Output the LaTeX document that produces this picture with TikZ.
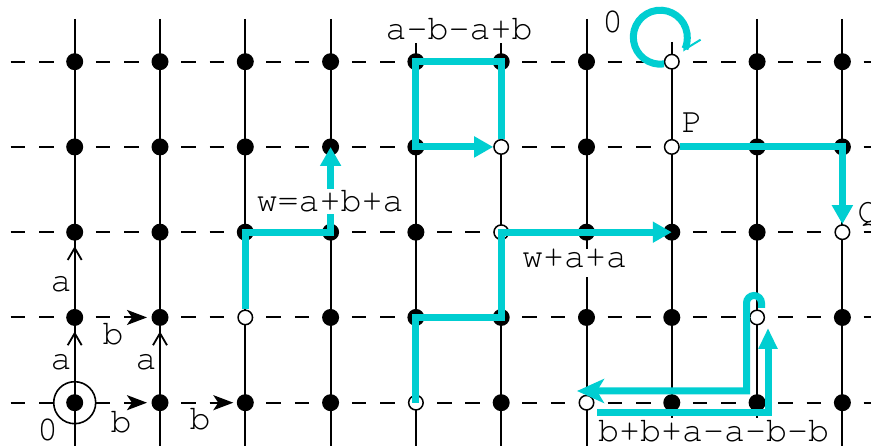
\documentclass[tikz,border=0pt]{standalone}
\usepackage[T1,TU]{fontenc}
\usetikzlibrary{arrows.meta,calc}
\definecolor{cyanp}{RGB}{0,206,209}
\newcommand\courfont{\fontencoding{T1}\fontfamily{pcr}\fontseries{m}\fontshape{n}\fontsize{35}{35}\selectfont}
\newcommand\markhollow[1]{\expandafter\def\csname hol-#1\endcsname{}}
\markhollow{2-3}\markhollow{5-1}\markhollow{5-2}\markhollow{4-4}\markhollow{7-0}
\markhollow{7-1}\markhollow{9-2}\markhollow{8-3}\markhollow{6-4}
\tikzset{
  gridv/.style={line width=2pt, black},
  gridh/.style={line width=2pt, black, dash pattern=on 14.5pt off 13.93pt},
  blackdot/.style={circle, fill=black, inner sep=0pt, minimum size=17pt},
  hollowdot/.style={circle, draw=black, line width=1.5pt, fill=white, inner sep=0pt, minimum size=14.5pt},
  origring/.style={circle, draw=black, line width=1.6pt, inner sep=0pt, minimum size=42pt},
  cyanpath/.style={draw=cyanp, line width=7pt},
  tri/.style={-{Triangle[length=19pt,width=20pt]}},
  aarrow/.style={line width=2pt, black, -{Straight Barb[length=12pt,width=14pt,line width=1.8pt]}, shorten >=14pt},
  barrow/.style={line width=2pt, black, dash pattern=on 14.5pt off 13.93pt, dash phase=7.25pt, -{Stealth[length=20pt,width=15pt,inset=5pt]}},
  lab/.style={font=\courfont, inner sep=0pt, anchor=base},
  boxlab/.style={lab, fill=white, inner sep=2pt}
}
\begin{document}
\begin{tikzpicture}[x=1pt,y=1pt]
\fill[white] (0,0) rectangle (871,446);
\useasboundingbox (0,0) rectangle (871,446);
% grid lines
\foreach \k in {0,...,9}{
  \pgfmathsetmacro\xx{74.7+85.3*\k}
  \pgfmathsetmacro\yt{\k==7 ? 404 : 427}
  \coordinate (vt-\k) at (\xx,\yt);
  \coordinate (vb-\k) at (\xx,-2);
  \draw[gridv] (vt-\k) -- (vb-\k);
}
\foreach \j in {0,...,4}{
  \pgfmathsetmacro\yy{384.3-85.25*\j}
  \coordinate (hl-\j) at (10.6,\yy);
  \coordinate (hr-\j) at (880,\yy);
  \draw[gridh] (hl-\j) -- (hr-\j);
}
% dots
\foreach \k in {0,...,9}{\foreach \j in {0,...,4}{
  \pgfmathsetmacro\xx{74.7+85.3*\k}
  \pgfmathsetmacro\yy{384.3-85.25*\j}
  \ifcsname hol-\k-\j\endcsname
    \node[hollowdot] (n-\k-\j) at (\xx,\yy) {};
  \else
    \node[blackdot] (n-\k-\j) at (\xx,\yy) {};
  \fi
}}
\node[origring] (orig) at (n-0-4) {};
% generator arrows
\draw[barrow, shorten >=13pt] (n-0-3.center) -- (n-1-3.center);
\draw[barrow, shorten >=13pt] (n-0-4.center) -- (n-1-4.center);
\draw[barrow, shorten >=12pt] (n-1-4.center) -- (n-2-4.center);
\draw[aarrow] (n-0-3.center) -- (n-0-2.center);
\draw[aarrow] (n-0-4.center) -- (n-0-3.center);
\draw[aarrow] (n-1-4.center) -- (n-1-3.center);
% cyan paths
\draw[cyanpath, tri] (n-2-3) |- (n-3-2.center) -- (n-3-1.center);
\draw[cyanpath, tri] (n-5-1) -- (n-5-0.center) -- (n-4-0.center) -- (n-4-1.center) -- (n-5-1);
\draw[cyanpath, tri] (n-4-4.center) -- (n-4-3.center) -- (n-5-3.center) -- (n-5-2.center) -- (n-7-2.center);
\draw[cyanpath, tri] (n-7-1) -- (n-9-1.center) -- (n-9-2);
\coordinate (loopc) at ($(n-7-0)+(-11.5,24.5)$);
\draw[cyanpath, -{Straight Barb[length=17pt,width=17pt,line width=2pt]}] ($(loopc)+(-82:27)$) arc[start angle=-82, end angle=-392, radius=27];
\coordinate (f1a) at (597,33);
\coordinate (f1b) at (768,33);
\coordinate (f1c) at (768,118);
\draw[cyanpath, -{Triangle[length=21pt,width=18pt]}] (f1a) -- (f1b) -- (f1c);
\coordinate (f2a) at (761.5,138);
\coordinate (f2c) at (746.5,55);
\coordinate (f2d) at (577,55);
\draw[cyanpath, -{Stealth[length=27pt,width=24pt,inset=7pt]}] (f2a) -- ++(0,5) arc[start angle=0, end angle=180, radius=7.5] -- (f2c) -- (f2d);
% labels
\node[lab] (la1) at (61,154) {a};
\node[lab] (la2) at (61,76) {a};
\node[lab] (la3) at (146,76) {a};
\node[lab] (lb1) at (113,101) {b};
\node[lab] (lb2) at (121,13) {b};
\node[lab] (lb3) at (200,16) {b};
\node[lab] (l0a) at (47.5,5) {0};
\node[lab] (l0b) at (612.5,413) {0};
\node[lab] (lP) at (692,313) {P};
\node[lab] (lQ) at (868,223) {Q};
\node[boxlab, inner sep=1pt] (tw1) at (330,234) {w=a+b+a};
\node[boxlab] (tw2) at (459,406) {a-b-a+b};
\node[boxlab, text depth=7pt] (tw3) at (574.5,178) {w+a+a};
\node[boxlab, inner xsep=9pt, text depth=8pt] (tw4) at (713.5,4) {b+b+a-a-b-b};
\end{tikzpicture}
\end{document}
